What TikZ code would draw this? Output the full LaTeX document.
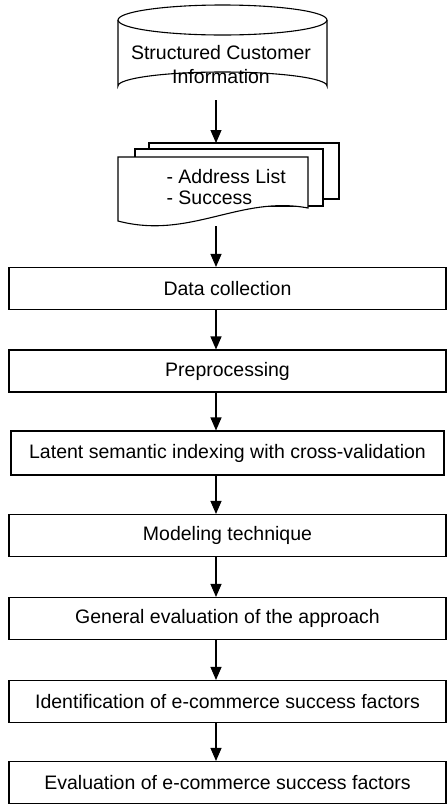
\documentclass[tikz,border=0pt]{standalone}
\usepackage{fontspec}
\setmainfont{Liberation Sans}
\usetikzlibrary{arrows.meta,calc}
\begin{document}
\begin{tikzpicture}[x=1pt,y=-1pt,
  every node/.style={font=\fontsize{19.5}{21}\selectfont},
  stepbox/.style={draw,line width=1.1pt,rectangle,minimum height=42pt,minimum width=437pt,inner sep=0pt},
  flow/.style={line width=1.1pt,-{Triangle[width=11pt,length=13pt]}},
  shp/.style={draw,line width=1.1pt,fill=white}]
\useasboundingbox (0,0) rectangle (447,804);
\coordinate (ax) at (216,0);
% cylinder
\draw[shp] (118,20) -- (118,86) arc[start angle=180,end angle=360,x radius=104.5,y radius=14] -- (327,20);
\draw[shp] (222.5,20) ellipse[x radius=104.5,y radius=15];
\node (cyl) at (221,65) [align=center,font=\fontsize{19.5}{24}\selectfont] {Structured Customer\\Information};
\coordinate (cylb) at (216,100);
% document stack
\draw[shp] (149,143) rectangle (339,199);
\draw[shp] (135,149) rectangle (323,206);
\draw[shp] (118,157) -- (308,157) -- (308,208) .. controls (240,195) and (190,240) .. (118,221) -- cycle;
\coordinate (doct) at (216,143);
\coordinate (docb) at (216,226);
\node (doc) at (163,187) [anchor=west,align=left] {- Address List\\- Success};
% steps
\node[stepbox] (s1) at (227.5,288.5) {Data collection};
\node[stepbox] (s2) at (227.5,371) {Preprocessing};
\node[stepbox,minimum width=433pt,minimum height=44pt] (s3) at (227.5,453) {Latent semantic indexing with cross-validation};
\node[stepbox] (s4) at (227.5,535.5) {Modeling technique};
\node[stepbox] (s5) at (227.5,618.5) {General evaluation of the approach};
\node[stepbox] (s6) at (227.5,701.5) {Identification of e-commerce success factors};
\node[stepbox] (s7) at (227.5,782.5) {Evaluation of e-commerce success factors};
% connectors
\draw[flow] (cylb) -- (doct);
\draw[flow] (docb) -- (s1.north -| ax);
\draw[flow] (s1.south -| ax) -- (s2.north -| ax);
\draw[flow] (s2.south -| ax) -- (s3.north -| ax);
\draw[flow] (s3.south -| ax) -- (s4.north -| ax);
\draw[flow] (s4.south -| ax) -- (s5.north -| ax);
\draw[flow] (s5.south -| ax) -- (s6.north -| ax);
\draw[flow] (s6.south -| ax) -- (s7.north -| ax);
\end{tikzpicture}
\end{document}
